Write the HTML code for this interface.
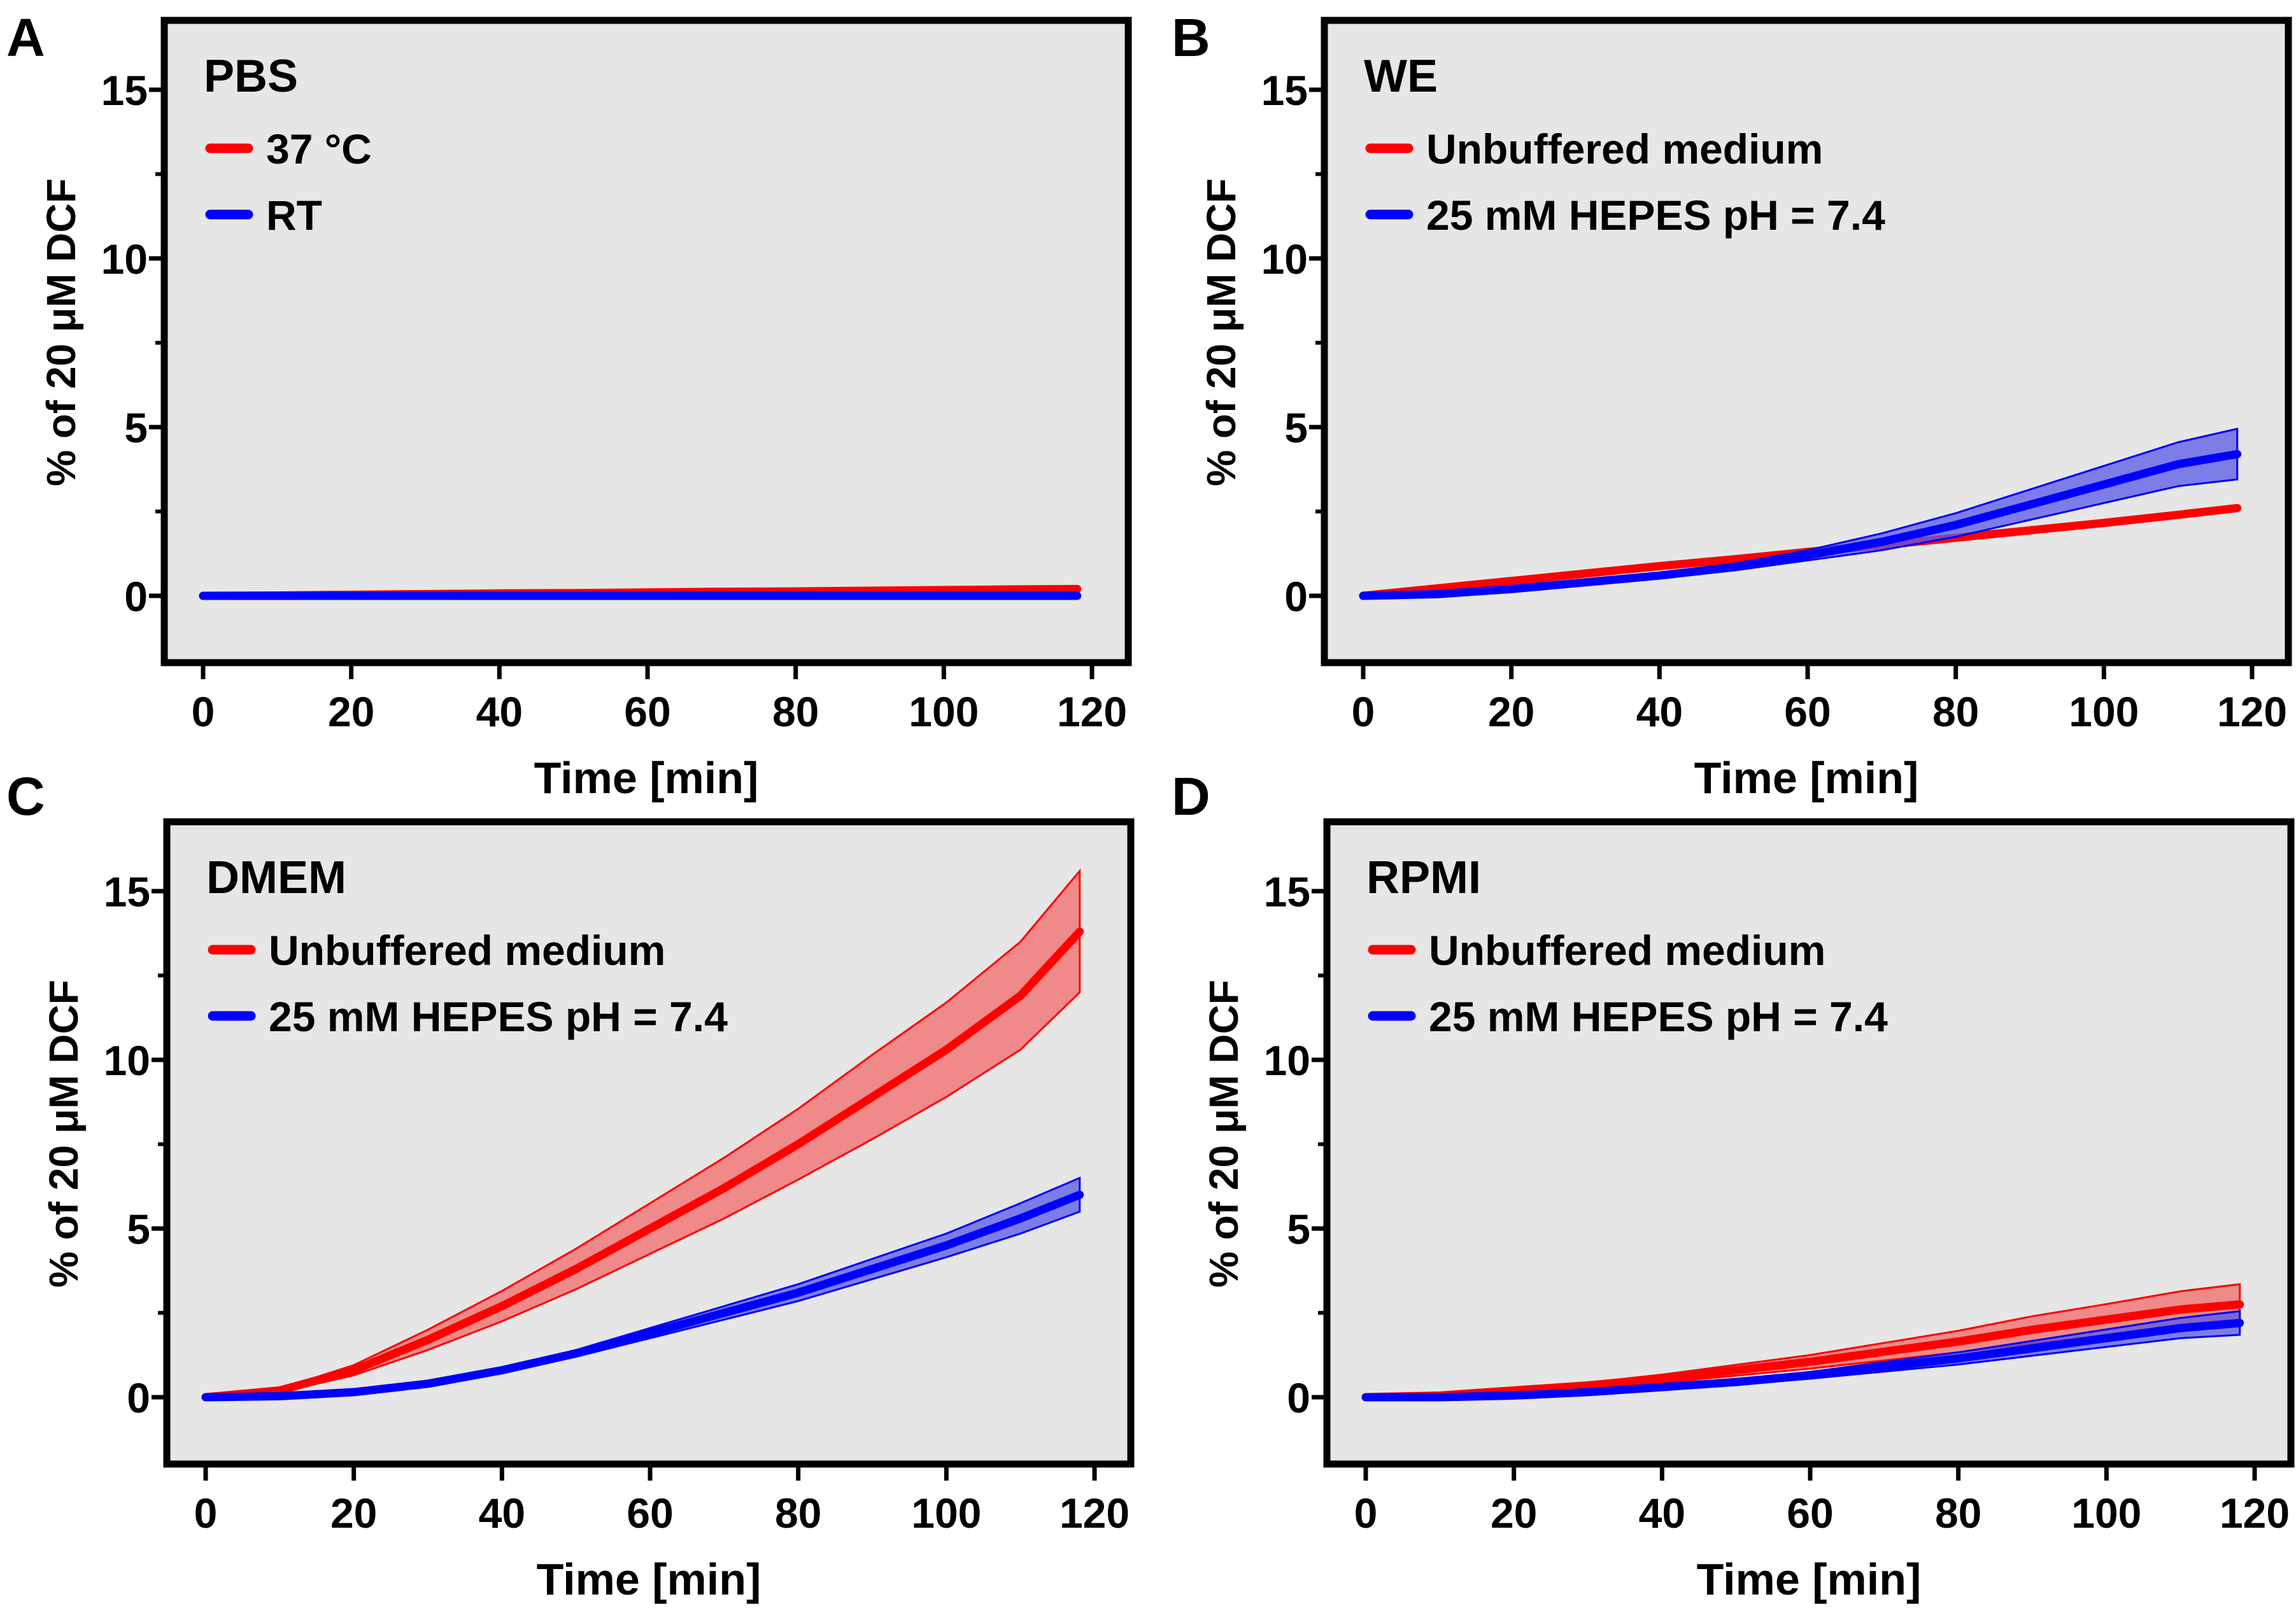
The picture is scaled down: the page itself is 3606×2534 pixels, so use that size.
<!DOCTYPE html>
<html><head><meta charset="utf-8"><style>
html,body{margin:0;padding:0;background:#fff;}
svg{display:block;}
text{font-family:"Liberation Sans",sans-serif;font-weight:bold;fill:#000;}
</style></head><body>
<svg id="fig" width="3606" height="2534" viewBox="0 0 3606 2534" xmlns="http://www.w3.org/2000/svg"></svg>
<script>
const times = [0,10,20,30,40,50,60,70,80,90,100,110,118];
const xTicks = [0,20,40,60,80,100,120];
const yTicks = [0,5,10,15];
const yMinor = [2.5,7.5,12.5];
// Panel A PBS
const pbsWarmMean = [0,0.01,0.03,0.05,0.07,0.08,0.1,0.12,0.13,0.15,0.17,0.19,0.2];
const pbsWarmSd   = [0,0.01,0.01,0.01,0.02,0.02,0.02,0.02,0.03,0.03,0.03,0.03,0.03];
const pbsRtMean   = [0,0,0,0,0,0,0,0,0,0,0,0,0];
const pbsRtSd     = [0,0.01,0.01,0.01,0.01,0.01,0.01,0.01,0.01,0.01,0.01,0.01,0.01];
// Panel B WE
const weUnbMean = [0,0.22,0.44,0.66,0.88,1.08,1.3,1.5,1.72,1.94,2.16,2.4,2.6];
const weUnbSd   = [0,0.02,0.03,0.03,0.04,0.05,0.05,0.06,0.06,0.07,0.07,0.08,0.08];
const weHepMean = [0,0.05,0.2,0.4,0.6,0.85,1.2,1.6,2.1,2.7,3.3,3.9,4.2];
const weHepSd   = [0,0.01,0.03,0.05,0.08,0.1,0.15,0.25,0.35,0.45,0.55,0.65,0.75];
// Panel C DMEM
const dmUnbMean = [0,0.2,0.8,1.7,2.7,3.8,5.0,6.2,7.5,8.9,10.3,11.9,13.8];
const dmUnbSd   = [0,0.05,0.15,0.3,0.45,0.6,0.75,0.9,1.05,1.25,1.4,1.6,1.8];
const dmHepMean = [0,0.03,0.15,0.4,0.8,1.3,1.9,2.5,3.1,3.8,4.5,5.3,6.0];
const dmHepSd   = [0,0.01,0.03,0.05,0.08,0.1,0.15,0.2,0.25,0.3,0.35,0.45,0.5];
// Panel D RPMI
const rpUnbMean = [0,0.05,0.2,0.35,0.55,0.8,1.05,1.35,1.65,2.0,2.3,2.6,2.75];
const rpUnbSd   = [0,0.02,0.05,0.08,0.12,0.16,0.2,0.26,0.32,0.4,0.46,0.54,0.6];
const rpHepMean = [0,0,0.05,0.15,0.3,0.45,0.65,0.9,1.15,1.45,1.75,2.05,2.2];
const rpHepSd   = [0,0.01,0.02,0.04,0.06,0.08,0.1,0.14,0.18,0.22,0.26,0.3,0.35];

const NS="http://www.w3.org/2000/svg";
const svg=document.getElementById('fig');
function mk(tag,attrs,parent,txt){const e=document.createElementNS(NS,tag);for(const k in attrs)e.setAttribute(k,attrs[k]);if(txt!==undefined)e.textContent=txt;(parent||svg).appendChild(e);return e;}

const panels=[
 {id:'a',letter:'A',lx:10,ly:88,bx:258,by:32,title:'PBS',labels:['37 °C','RT'],series:[[pbsWarmMean,pbsWarmSd],[pbsRtMean,pbsRtSd]]},
 {id:'b',letter:'B',lx:1840,ly:88,bx:2080,by:32,title:'WE',labels:['Unbuffered medium','25 mM HEPES pH = 7.4'],series:[[weUnbMean,weUnbSd],[weHepMean,weHepSd]]},
 {id:'c',letter:'C',lx:10,ly:1280,bx:262,by:1291,title:'DMEM',labels:['Unbuffered medium','25 mM HEPES pH = 7.4'],series:[[dmUnbMean,dmUnbSd],[dmHepMean,dmHepSd]]},
 {id:'d',letter:'D',lx:1840,ly:1280,bx:2084,by:1291,title:'RPMI',labels:['Unbuffered medium','25 mM HEPES pH = 7.4'],series:[[rpUnbMean,rpUnbSd],[rpHepMean,rpHepSd]]}
];
const colors=['#ff0000','#0000ff'];
const bandColors=['#f36a6a','#5a5ae8'];
const W=1514,H=1009;

panels.forEach(p=>{
  const g=mk('g',{});
  
  
  const x=v=>p.bx+61+v*(1396/120);
  const y=v=>p.by+904-v*53;
  const lt=mk('text',{x:p.lx,y:p.ly,'font-size':84},g,p.letter);
  
  
  const bg=mk('rect',{x:p.bx,y:p.by,width:W,height:H,fill:'#e6e6e6',stroke:'#000','stroke-width':11},g);
  
  
  // y ticks
  yTicks.forEach(t=>{
    const tk=mk('line',{x1:p.bx-24,x2:p.bx,y1:y(t),y2:y(t),stroke:'#000','stroke-width':7},g);
    
    
    const tl=mk('text',{x:p.bx-26,y:y(t)+24,'font-size':66,'text-anchor':'end'},g,String(t));
    
    
  });
  yMinor.forEach(t=>{
    const tk=mk('line',{x1:p.bx-14,x2:p.bx,y1:y(t),y2:y(t),stroke:'#000','stroke-width':6},g);
    
    
  });
  xTicks.forEach(t=>{
    const tk=mk('line',{x1:x(t),x2:x(t),y1:p.by+H,y2:p.by+H+26,stroke:'#000','stroke-width':7},g);
    
    
    const tl=mk('text',{x:x(t),y:p.by+H+100,'font-size':66,'text-anchor':'middle'},g,String(t));
    
    
  });
  const xt=mk('text',{x:p.bx+757,y:p.by+H+205,'font-size':70,'text-anchor':'middle'},g,'Time [min]');
  
  
  const cy=p.by+490, cx=p.bx-140;
  const yt=mk('text',{x:cx,y:cy,'font-size':64,'text-anchor':'middle',transform:`rotate(-90 ${cx} ${cy})`},g,'% of 20 μM DCF');
  
  
  // series
  p.series.forEach((s,i)=>{
    const [m,sd]=s;
    let up=times.map((t,k)=>x(t)+','+y(m[k]+sd[k]));
    let dn=times.map((t,k)=>x(t)+','+y(m[k]-sd[k])).reverse();
    const band=mk('polygon',{points:up.concat(dn).join(' '),fill:bandColors[i],stroke:colors[i],'stroke-width':3,'fill-opacity':0.75},g);
    
    
    const ln=mk('polyline',{points:times.map((t,k)=>x(t)+','+y(m[k])).join(' '),fill:'none',stroke:colors[i],'stroke-width':13,'stroke-linecap':'round','stroke-linejoin':'round'},g);
    
    
  });
  // legend
  const tt=mk('text',{x:p.bx+62,y:p.by+112,'font-size':72},g,p.title);
  
  
  p.labels.forEach((lab,i)=>{
    const ly=p.by+201+i*104;
    const sw=mk('line',{x1:p.bx+72,x2:p.bx+132,y1:ly,y2:ly,stroke:colors[i],'stroke-width':15,'stroke-linecap':'round'},g);
    
    
    const lt2=mk('text',{x:p.bx+160,y:ly+24,'font-size':66},g,lab);
    
    
  });
});
</script>
</body></html>
